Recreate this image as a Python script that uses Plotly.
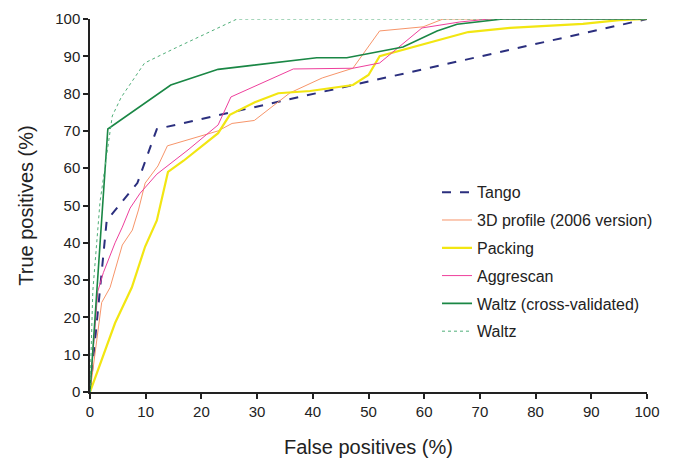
import plotly.graph_objects as go

tango_x = [0, 3, 8.5, 12, 100]
tango_y = [0, 46, 56, 70.5, 100]

prof3d_x = [0, 2.1, 3.6, 5.8, 7.6, 8.7, 9.9, 12.2, 13.9, 23, 25.5, 29.5, 35.9, 41.7, 47.2, 52, 59.8, 63.4, 100]
prof3d_y = [0, 24, 28, 39.4, 43.4, 48.8, 56, 60.6, 66, 70, 72, 72.8, 80.2, 84.2, 86.8, 96.8, 97.9, 100, 100]

packing_x = [0, 3, 4.5, 7.5, 9.9, 12, 14, 16.8, 23, 25.1, 29.6, 33.8, 39.5, 47.2, 50, 52, 67.9, 75.4, 88.5, 95, 100]
packing_y = [0, 12, 18.5, 28, 39, 46, 59, 62, 69.4, 74.3, 77.7, 80.1, 80.7, 82.3, 85, 90, 96.5, 97.6, 98.7, 99.7, 100]

aggre_x = [0, 1.4, 2.4, 3.3, 4.5, 5.8, 7.2, 9, 12, 17.6, 23, 25.3, 36.5, 47.2, 52, 59.6, 66.4, 71.8, 100]
aggre_y = [0, 27, 32, 35.4, 40, 44.2, 49.3, 53.3, 58.4, 64.9, 71.6, 79.1, 86.6, 86.8, 88.2, 97.6, 99.2, 100, 100]

waltzcv_x = [0, 3.2, 14.5, 23, 28.7, 40.7, 46.1, 56.2, 62.3, 65.9, 74.1, 100]
waltzcv_y = [0, 70.5, 82.3, 86.5, 87.5, 89.6, 89.6, 92.5, 96.8, 98.6, 100, 100]

waltz_x = [0, 0.5, 1.8, 4, 5.6, 9.8, 15.3, 26.4, 100]
waltz_y = [0, 27, 51, 74, 79, 88.2, 92.2, 100, 100]

x_ticks = [0, 10, 20, 30, 40, 50, 60, 70, 80, 90, 100]
y_ticks = [0, 10, 20, 30, 40, 50, 60, 70, 80, 90, 100]

series = [
    ("Tango", tango_x, tango_y, "#2b2f7e", 2.0, "dash"),
    ("3D profile (2006 version)", prof3d_x, prof3d_y, "#f7956a", 1.0, "solid"),
    ("Packing", packing_x, packing_y, "#f2e612", 2.2, "solid"),
    ("Aggrescan", aggre_x, aggre_y, "#ee3f9c", 1.0, "solid"),
    ("Waltz (cross-validated)", waltzcv_x, waltzcv_y, "#1a8745", 1.6, "solid"),
    ("Waltz", waltz_x, waltz_y, "#4fae78", 1.0, "dot"),
]

fig = go.Figure()
for i, (name, xs, ys, col, w, dash) in enumerate(series):
    fig.add_trace(go.Scatter(
        x=xs, y=ys, mode="lines", name=name, legendgroup=str(i),
        line=dict(color=col, width=w, dash=dash), cliponaxis=False,
    ))

font = "Liberation Sans, Arial, sans-serif"
fig.update_layout(
    width=665, height=450,
    margin=dict(l=82, r=26, t=11, b=66),
    paper_bgcolor="white", plot_bgcolor="white",
    font=dict(family=font, size=15, color="#222"),
    showlegend=True,
    legend=dict(x=0.623, y=0.581, xanchor="left", yanchor="top",
                traceorder="grouped", tracegroupgap=4,
                font=dict(size=16, color="#222"), bgcolor="rgba(0,0,0,0)"),
    xaxis=dict(range=[0, 100], tickvals=x_ticks, showgrid=False, zeroline=False,
               showline=True, linecolor="#222", linewidth=1.5, automargin=False,
               ticks="outside", ticklen=5, tickwidth=1.5, tickcolor="#222",
               tickfont=dict(size=15),
               title=dict(text="False positives (%)", font=dict(size=20), standoff=23)),
    yaxis=dict(range=[0, 100], tickvals=y_ticks, showgrid=False, zeroline=False,
               showline=True, linecolor="#222", linewidth=1.5, automargin=False,
               ticks="outside", ticklen=5, tickwidth=1.5, tickcolor="#222",
               tickfont=dict(size=15),
               title=dict(text="True positives (%)", font=dict(size=20), standoff=16)),
)

fig.write_html("out.html")
